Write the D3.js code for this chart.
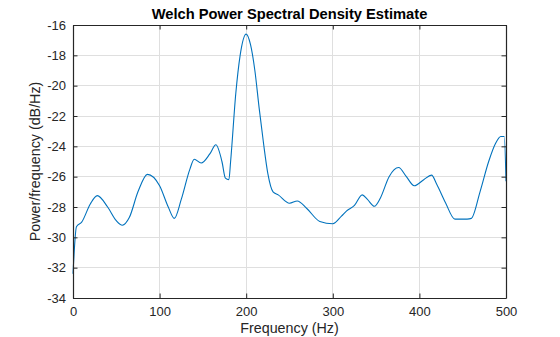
<!DOCTYPE html>
<html><head><meta charset="utf-8">
<script src="https://cdn.jsdelivr.net/npm/d3@7"></script>
<style>body{margin:0;background:#fff;} svg{display:block;}</style>
</head><body>
<script>
const title = "Welch Power Spectral Density Estimate";
const xLabel = "Frequency (Hz)";
const yLabel = "Power/frequency (dB/Hz)";
const xTicks = [0, 100, 200, 300, 400, 500];
const yTicks = [-34, -32, -30, -28, -26, -24, -22, -20, -18, -16];
const freq = [0, 4, 10, 20, 28, 40, 50, 57, 65, 75, 86, 100, 110, 117, 125, 135, 140, 148, 158, 165, 172, 176, 180, 182, 188, 193, 200, 205, 210, 215, 220, 225, 231, 237, 250, 259, 270, 285, 300, 310, 316, 325, 334, 340, 348, 355, 365, 376, 385, 394, 405, 414, 420, 430, 441, 455, 460, 470, 480, 488, 494, 498, 500];
const psd  = [-32.4, -29.3, -29.0, -27.8, -27.25, -28.0, -28.9, -29.2, -28.7, -27.0, -25.85, -26.6, -28.0, -28.75, -27.5, -25.5, -24.85, -25.1, -24.5, -23.9, -25.0, -26.1, -26.2, -25.0, -20.5, -18.0, -16.6, -17.3, -19.0, -21.5, -23.8, -25.8, -27.0, -27.2, -27.75, -27.6, -28.1, -28.95, -29.1, -28.6, -28.25, -27.9, -27.2, -27.5, -27.95, -27.4, -26.0, -25.4, -26.0, -26.6, -26.2, -25.9, -26.5, -27.7, -28.8, -28.8, -28.75, -27.0, -25.0, -23.8, -23.35, -23.35, -26.3];

const W = 560, H = 337;
const m = {l: 73, r: 54, t: 25, b: 39};
const svg = d3.select("body").append("svg").attr("width", W).attr("height", H)
  .style("font-family", "'Liberation Sans', Arial, Helvetica, sans-serif");
const x = d3.scaleLinear().domain([0, 500]).range([m.l, W - m.r]);
const y = d3.scaleLinear().domain([-34, -16]).range([H - m.b, m.t]);
const axCol = "#262626", gridCol = "#dfdfdf", tl = 4.5;

// grid
svg.append("g").selectAll("line").data(xTicks.slice(1, -1)).join("line")
  .attr("x1", d => x(d)).attr("x2", d => x(d)).attr("y1", y(-34)).attr("y2", y(-16))
  .attr("stroke", gridCol).attr("stroke-width", 1).attr("shape-rendering", "crispEdges");
svg.append("g").selectAll("line").data(yTicks.slice(1, -1)).join("line")
  .attr("y1", d => y(d)).attr("y2", d => y(d)).attr("x1", x(0)).attr("x2", x(500))
  .attr("stroke", gridCol).attr("stroke-width", 1).attr("shape-rendering", "crispEdges");

// data line
const line = d3.line().x((d, i) => x(freq[i])).y(d => y(d)).curve(d3.curveMonotoneX);
svg.append("path").datum(psd).attr("d", line).attr("fill", "none")
  .attr("stroke", "#0072BD").attr("stroke-width", 1.1).attr("stroke-linejoin", "round");

// axes (ticks inside, box on)
const gB = svg.append("g").attr("transform", `translate(0,${y(-34)})`)
  .call(d3.axisBottom(x).tickValues(xTicks).tickSizeInner(-tl).tickSizeOuter(0).tickPadding(9));
const gT = svg.append("g").attr("transform", `translate(0,${y(-16)})`)
  .call(d3.axisTop(x).tickValues(xTicks).tickSizeInner(-tl).tickSizeOuter(0).tickFormat(""));
const gL = svg.append("g").attr("transform", `translate(${x(0)},0)`)
  .call(d3.axisLeft(y).tickValues(yTicks).tickSizeInner(-tl).tickSizeOuter(0).tickPadding(7));
const gR = svg.append("g").attr("transform", `translate(${x(500)},0)`)
  .call(d3.axisRight(y).tickValues(yTicks).tickSizeInner(-tl).tickSizeOuter(0).tickFormat(""));
[gB, gT, gL, gR].forEach(g => {
  g.select(".domain").attr("stroke", axCol).attr("stroke-width", 1.2);
  g.selectAll(".tick line").attr("stroke", axCol).attr("stroke-width", 1);
  g.selectAll(".tick text").attr("fill", axCol).attr("font-size", 13)
   .attr("font-family", "'Liberation Sans', Arial, sans-serif");
});
gL.selectAll(".tick text").text(d => String(d));

// labels
svg.append("text").attr("x", (x(0) + x(500)) / 2).attr("y", 19).attr("text-anchor", "middle")
  .attr("font-weight", "bold").attr("font-size", 14.7).attr("fill", "#000").text(title);
svg.append("text").attr("x", (x(0) + x(500)) / 2).attr("y", 333).attr("text-anchor", "middle")
  .attr("font-size", 14.3).attr("fill", axCol).text(xLabel);
svg.append("text").attr("transform", `translate(40,${(y(-34) + y(-16)) / 2}) rotate(-90)`)
  .attr("text-anchor", "middle").attr("font-size", 14.3).attr("fill", axCol).text(yLabel);
</script>
</body></html>
